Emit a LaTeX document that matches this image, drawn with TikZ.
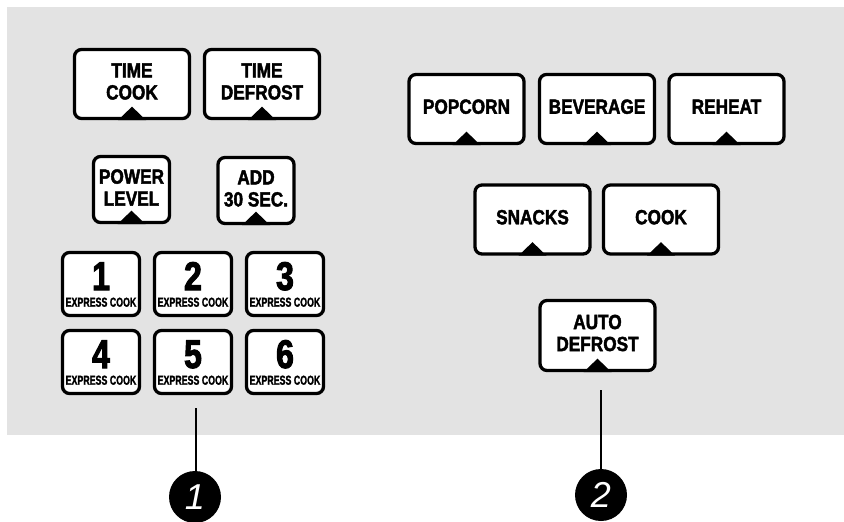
\documentclass[tikz,border=0pt]{standalone}
\usepackage{fontspec}
\newfontfamily\cf[FakeStretch=0.84,FakeBold=2]{Liberation Sans Bold}
\newfontfamily\cfd[FakeStretch=0.8,FakeBold=2.5]{Liberation Sans Bold}
\newfontfamily\cfs[FakeStretch=0.68,FakeBold=1.5]{Liberation Sans Bold}
\newfontfamily\cfi{Liberation Sans}
\definecolor{panel}{HTML}{E3E3E3}
\begin{document}
\begin{tikzpicture}[x=1pt,y=-1pt,
  btn/.style={draw=black,line width=3.3pt,rounded corners=7pt,fill=white,inner sep=0pt},
  wide/.style={btn,minimum width=115pt,minimum height=69pt},
  small/.style={btn,minimum width=76pt,minimum height=66pt},
  keybox/.style={btn,minimum width=77pt,minimum height=63pt},
  lbl/.style={font=\cf\fontsize{20.5}{22}\selectfont,align=center,inner sep=0pt},
  dig/.style={font=\cfd\fontsize{40}{42}\selectfont,inner sep=0pt,anchor=base},
  exp/.style={font=\cfs\fontsize{13}{14}\selectfont,inner sep=0pt,anchor=base},
  callout/.style={circle,fill=black,minimum size=52pt,inner sep=0pt,text=white,
    font=\cfi\itshape\fontsize{36}{40}\selectfont},
  leader/.style={line width=2.8pt,draw=black},
  notch/.style={fill=black}]
\useasboundingbox (0,0) rectangle (844,522);
\fill[panel] (7,7) rectangle (844,435);

% left group
\node[wide] (tc) at (132,84) {};
\node[lbl] (tcl) at ([yshift=2.5pt]tc.center) {TIME\\COOK};
\node[wide] (td) at (262,84) {};
\node[lbl] (tdl) at ([yshift=2.5pt]td.center) {TIME\\DEFROST};
\node[small] (pl) at (131.5,189.5) {};
\node[lbl] (pll) at ([yshift=2pt]pl.center) {POWER\\LEVEL};
\node[small] (ad) at (256,190.5) {};
\node[lbl] (adl) at ([yshift=2pt]ad.center) {ADD\\30 SEC.};

\foreach \k/\x/\y in {1/101/284,2/193/284,3/285/284,4/101/362,5/193/362,6/285/362}{
  \node[keybox] (k\k) at (\x,\y) {};
  \node[dig] (k\k d) at ([yshift=-6pt]k\k.center) {\k};
  \node[exp] (k\k e) at ([yshift=-22.7pt]k\k.center) {EXPRESS COOK};
}

% right group
\node[wide] (pop) at (466.5,109) {};
\node[lbl] (popl) at ([yshift=2.3pt]pop.center) {POPCORN};
\node[wide] (bev) at (597,109) {};
\node[lbl] (bevl) at ([yshift=2.3pt]bev.center) {BEVERAGE};
\node[wide] (reh) at (726.5,109) {};
\node[lbl] (rehl) at ([yshift=2.3pt]reh.center) {REHEAT};
\node[wide] (sn) at (532.5,219.5) {};
\node[lbl] (snl) at ([yshift=2.3pt]sn.center) {SNACKS};
\node[wide] (ck) at (661,219.5) {};
\node[lbl] (ckl) at ([yshift=2.3pt]ck.center) {COOK};
\node[wide,minimum height=70pt] (adf) at (597.5,335.5) {};
\node[lbl] (adfl) at ([yshift=2.5pt]adf.center) {AUTO\\DEFROST};

\foreach \n in {tc,td,pl,ad,pop,bev,reh,sn,ck,adf}{
  \fill[notch] ([xshift=-14pt]\n.south) -- ([yshift=13.5pt]\n.south) -- ([xshift=14pt]\n.south) -- cycle;
}

% callouts
\node[callout] (c1) at (195,497) {1};
\node[callout] (c2) at (601,495) {2};
\coordinate (l1) at (196,408);
\coordinate (l2) at (601,390);
\draw[leader] (l1) -- (l1 |- c1.north);
\draw[leader] (l2) -- (c2.north);
\end{tikzpicture}
\end{document}
